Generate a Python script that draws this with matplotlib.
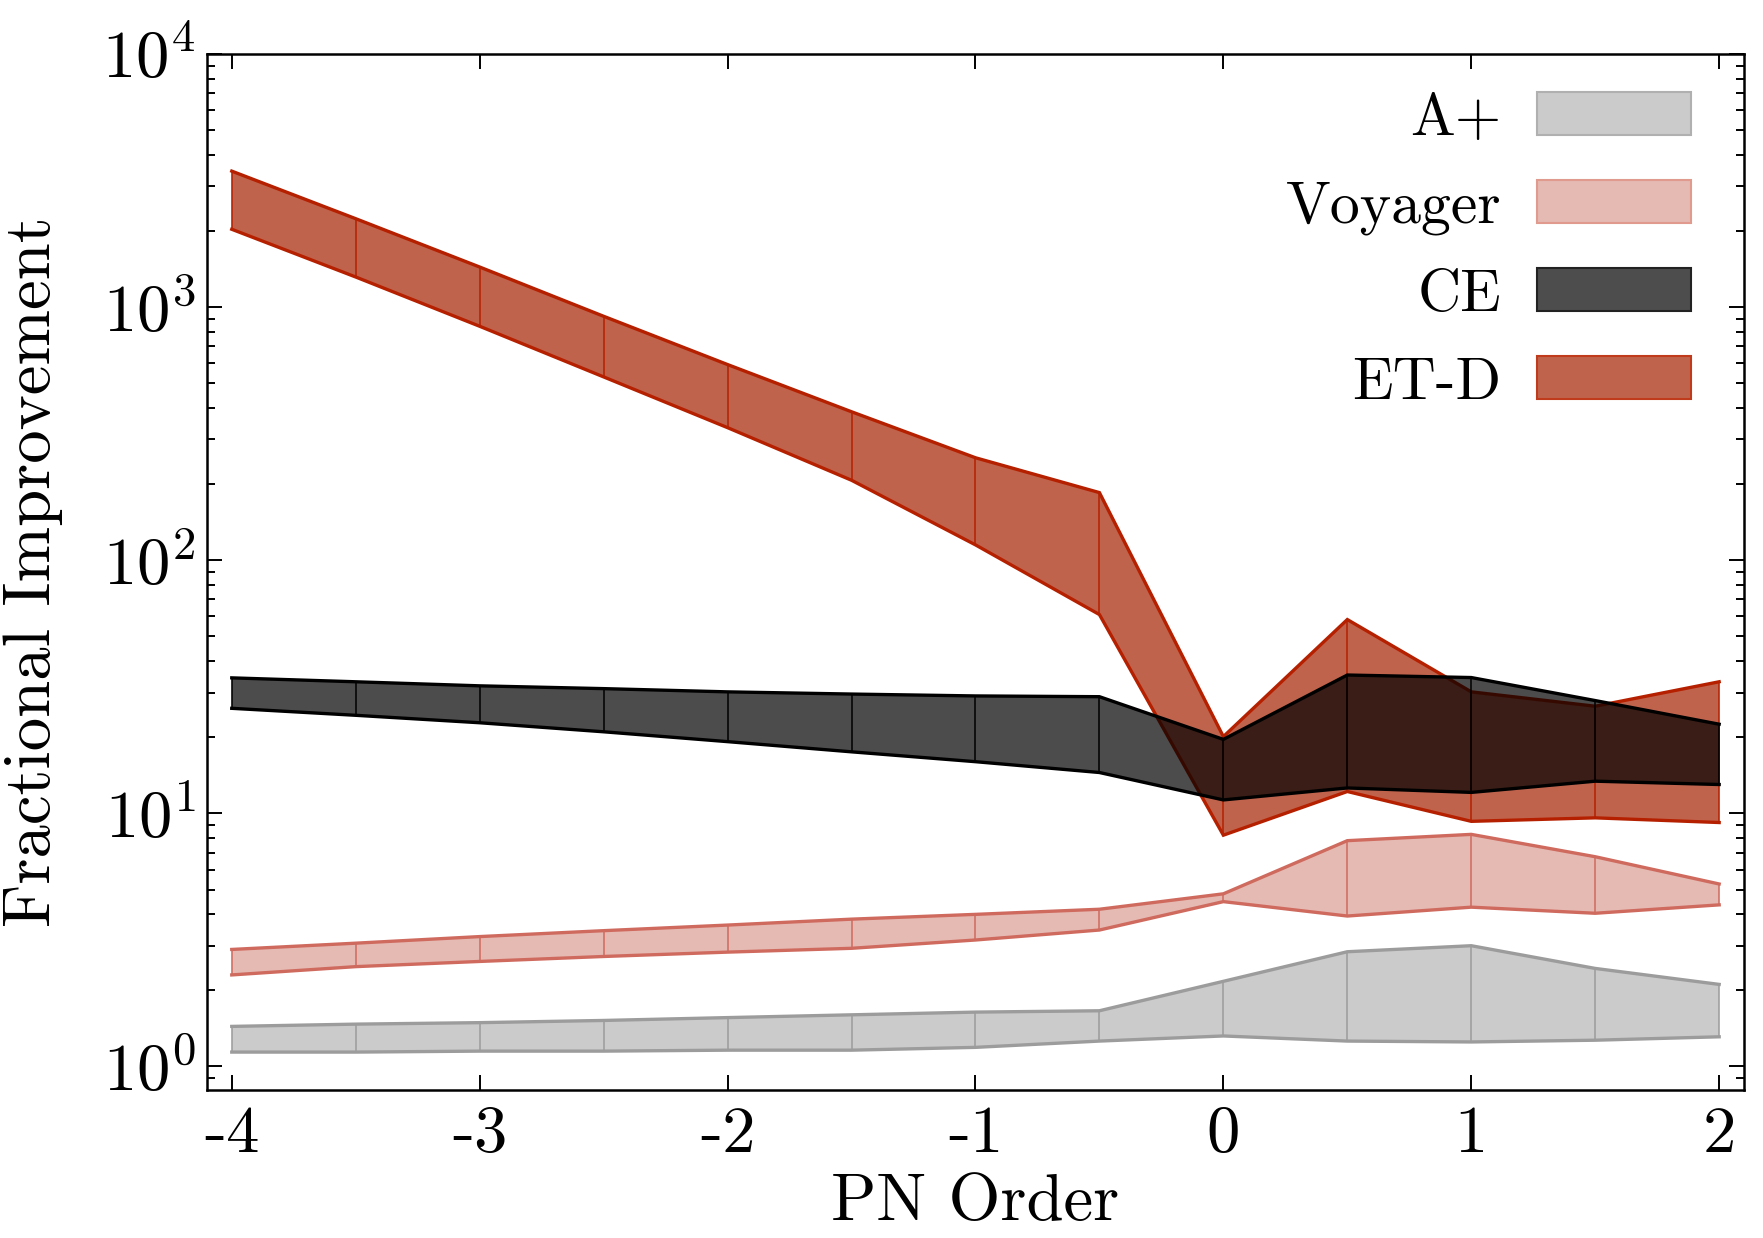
import matplotlib
matplotlib.use('Agg')
import matplotlib.pyplot as plt
from matplotlib.patches import Patch
from matplotlib.ticker import LogLocator, NullFormatter
import numpy as np

plt.rcParams['font.family'] = ['cmr10', 'DejaVu Serif']
plt.rcParams['mathtext.fontset'] = 'cm'
plt.rcParams['axes.formatter.use_mathtext'] = True

# PN orders
pn = [-4, -3.5, -3, -2.5, -2, -1.5, -1, -0.5, 0, 0.5, 1, 1.5, 2]

aplus_lo = [1.14, 1.14, 1.15, 1.15, 1.16, 1.16, 1.19, 1.26, 1.32, 1.26, 1.25, 1.27, 1.31]
aplus_hi = [1.44, 1.47, 1.49, 1.52, 1.56, 1.60, 1.64, 1.66, 2.17, 2.84, 3.00, 2.44, 2.11]

voy_lo = [2.30, 2.48, 2.60, 2.72, 2.83, 2.93, 3.16, 3.46, 4.48, 3.93, 4.26, 4.03, 4.35]
voy_hi = [2.90, 3.07, 3.26, 3.44, 3.62, 3.82, 3.99, 4.18, 4.81, 7.80, 8.26, 6.74, 5.26]

ce_lo = [26.0, 24.4, 22.8, 21.0, 19.2, 17.5, 16.0, 14.5, 11.3, 12.6, 12.1, 13.4, 13.0]
ce_hi = [34.3, 33.1, 31.9, 31.1, 30.2, 29.6, 29.1, 28.9, 19.6, 35.2, 34.4, 27.9, 22.5]

etd_lo = [2030, 1315, 840, 530, 334, 207, 115, 61, 8.2, 12.2, 9.3, 9.6, 9.2]
etd_hi = [3445, 2235, 1440, 920, 593, 386, 254, 185, 20.1, 58.3, 30.2, 26.5, 33.1]

fig = plt.figure(figsize=(17.63, 12.38), dpi=100)
ax = fig.add_axes([0.1174, 0.1195, 0.8718, 0.8369])


def band(lo, hi, face, edge, alpha=1.0, z=1):
    ax.fill_between(pn, lo, hi, facecolor=face, alpha=alpha, lw=0, zorder=z)
    ax.plot(pn, lo, color=edge, lw=2.4, zorder=z, solid_joinstyle='miter')
    ax.plot(pn, hi, color=edge, lw=2.4, zorder=z, solid_joinstyle='miter')
    ax.vlines(pn, lo, hi, color=edge, lw=1.1, zorder=z)


band(etd_lo, etd_hi, '#c0634c', '#b52000', z=1)
band(ce_lo, ce_hi, 'black', 'black', alpha=0.7, z=2)
band(voy_lo, voy_hi, '#e5bab3', '#cf6a5e', z=3)
band(aplus_lo, aplus_hi, '#cbcbcb', '#9c9c9c', z=4)

ax.set_yscale('log')
ax.set_xlim(-4.1, 2.1)
ax.set_ylim(0.807, 1e4)

ax.set_xticks(range(-4, 3))
ax.set_xticklabels([str(i) for i in range(-4, 3)])
ax.set_yticks([1, 10, 100, 1000, 10000])
ax.set_yticklabels([r'$10^{0}$', r'$10^{1}$', r'$10^{2}$', r'$10^{3}$', r'$10^{4}$'])
ax.yaxis.set_minor_locator(LogLocator(base=10, subs=np.arange(2, 10)))
ax.yaxis.set_minor_formatter(NullFormatter())
ax.xaxis.set_minor_locator(plt.NullLocator())

ax.tick_params(which='both', direction='in', top=True, right=True, labelsize=48)
ax.tick_params(which='major', length=11, width=1.4)
ax.tick_params(which='minor', length=5.5, width=1.4)
ax.tick_params(axis='x', pad=11)
ax.tick_params(axis='y', pad=8)
for s in ax.spines.values():
    s.set_linewidth(1.8)

ax.set_xlabel('PN Order', fontsize=48, labelpad=6)
ax.set_ylabel('Fractional Improvement', fontsize=48, labelpad=28)

handles = [
    Patch(facecolor='#cbcbcb', edgecolor='#b0b0b0', lw=1.5),
    Patch(facecolor='#e5bab3', edgecolor='#e09a8e', lw=1.5),
    Patch(facecolor='#4d4d4d', edgecolor='#222222', lw=1.5),
    Patch(facecolor='#c0634c', edgecolor='#c03a1c', lw=1.5),
]
ax.legend(handles, ['A+', 'Voyager', 'CE', 'ET-D'], loc='upper right',
          bbox_to_anchor=(0.981, 0.986), frameon=False, markerfirst=False,
          fontsize=43, handlelength=2.57, handleheight=0.73,
          handletextpad=0.6, labelspacing=0.56, borderaxespad=0)

fig.savefig('out.png', dpi=100)
